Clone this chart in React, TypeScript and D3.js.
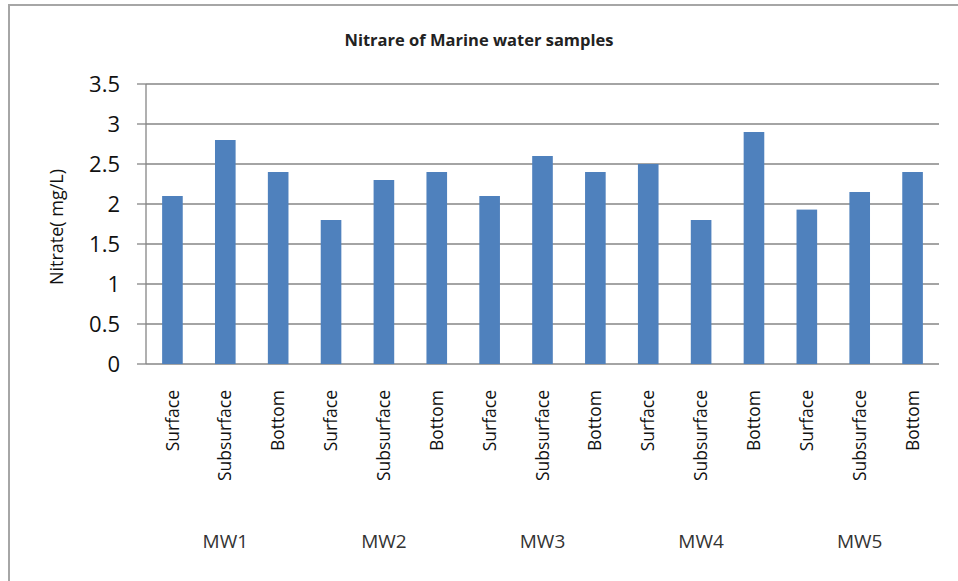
import React from "react";
import * as d3 from "d3";

const groups = ["MW1", "MW2", "MW3", "MW4", "MW5"];
const depths = ["Surface", "Subsurface", "Bottom"];
const values = [2.1, 2.8, 2.4, 1.8, 2.3, 2.4, 2.1, 2.6, 2.4, 2.5, 1.8, 2.9, 1.93, 2.15, 2.4];
const yTicks = [0, 0.5, 1, 1.5, 2, 2.5, 3, 3.5];
const title = "Nitrare of Marine water samples";
const yTitle = "Nitrate( mg/L)";

const W = 958;
const H = 581;
const left = 146;
const right = 939;
const top = 84;
const bottom = 364;
const FONT = "'Open Sans', 'DejaVu Sans', sans-serif";

export default function App() {
  const cats = groups.flatMap((g) => depths.map((d) => `${g}|${d}`));
  const x = d3.scaleBand<string>().domain(cats).range([left, right]).paddingInner(0.61).paddingOuter(0.305);
  const y = d3.scaleLinear().domain([0, 3.5]).range([bottom, top]);
  const step = x.step();

  return (
    <svg width={W} height={H} style={{ position: "absolute", left: 0, top: 0, background: "#fff" }} fontFamily={FONT}>
      <rect x={9} y={5} width={1000} height={700} fill="#fff" stroke="#a6a6a6" strokeWidth={2} />
      <text x={479} y={46} textAnchor="middle" fontSize={16.5} fontWeight="bold" fill="#222">{title}</text>
      {yTicks.map((t) => (
        <g key={t}>
          <line x1={left} x2={right} y1={y(t)} y2={y(t)} stroke="#868686" strokeWidth={1.3} />
          <line x1={137} x2={left} y1={y(t)} y2={y(t)} stroke="#868686" strokeWidth={1.3} />
          <text x={120} y={y(t)} dy="0.36em" textAnchor="end" fontSize={22} fill="#111">{t}</text>
        </g>
      ))}
      <line x1={left} x2={left} y1={top} y2={bottom} stroke="#868686" strokeWidth={1.3} />
      <text transform={`translate(57,227) rotate(-90)`} dy="0.35em" textAnchor="middle" fontSize={18} fill="#111">{yTitle}</text>
      {values.map((v, i) => (
        <rect key={i} x={x(cats[i])} y={y(v)} width={x.bandwidth()} height={y(0) - y(v)} fill="#4f81bd" />
      ))}
      {cats.map((c, i) => (
        <text key={c} transform={`translate(${(x(c) as number) + x.bandwidth() / 2},390) rotate(-90)`} dy="0.35em" textAnchor="end" fontSize={17.5} fill="#111">
          {depths[i % 3]}
        </text>
      ))}
      {groups.map((g, gi) => (
        <text key={g} x={left + step * (gi * 3 + 1.5)} y={548} textAnchor="middle" fontSize={19} fill="#333">{g}</text>
      ))}
    </svg>
  );
}
